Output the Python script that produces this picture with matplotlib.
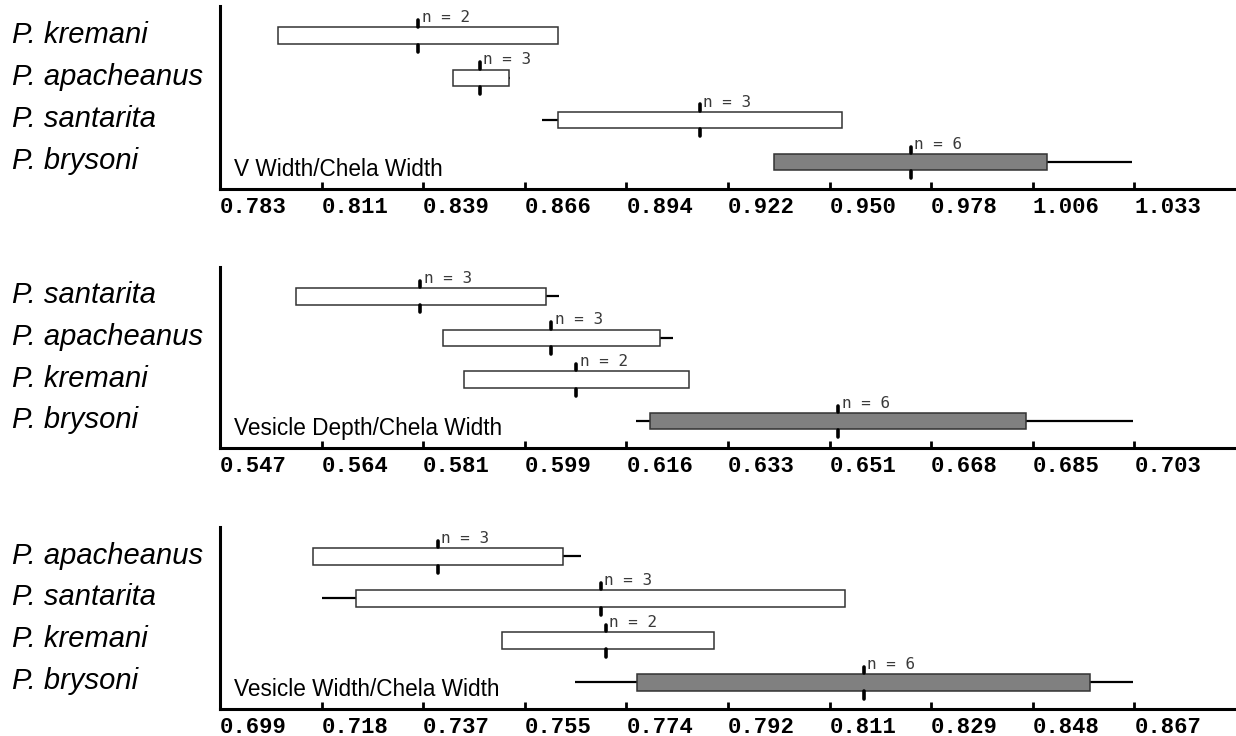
import numpy as np
import matplotlib
matplotlib.use("Agg")
import matplotlib.pyplot as plt
from matplotlib.transforms import blended_transform_factory

# ── Panel 1: V Width / Chela Width ───────────────────────────────────────────
V_SPECIES = ["P. kremani", "P. apacheanus", "P. santarita", "P. brysoni"]
V_BOX_LO = [0.7989, 0.8466, 0.8754, 0.9344]
V_BOX_HI = [0.8754, 0.8620, 0.9530, 1.0091]
V_WHISK_LO = [0.7989, 0.8466, 0.8709, 0.9344]
V_WHISK_HI = [0.8754, 0.8624, 0.9530, 1.0324]
V_MEAN = [0.8372, 0.8540, 0.9141, 0.9719]
V_N = [2, 3, 3, 6]
V_TICKS = ["0.783", "0.811", "0.839", "0.866", "0.894",
           "0.922", "0.950", "0.978", "1.006", "1.033"]

# ── Panel 2: Vesicle Depth / Chela Width ─────────────────────────────────────
D_SPECIES = ["P. santarita", "P. apacheanus", "P. kremani", "P. brysoni"]
D_BOX_LO = [0.5599, 0.5850, 0.5887, 0.6203]
D_BOX_HI = [0.6026, 0.6221, 0.6270, 0.6845]
D_WHISK_LO = [0.5599, 0.5850, 0.5887, 0.6179]
D_WHISK_HI = [0.6048, 0.6243, 0.6270, 0.7028]
D_MEAN = [0.5812, 0.6035, 0.6078, 0.6525]
D_N = [3, 3, 2, 6]
D_TICKS = ["0.547", "0.564", "0.581", "0.599", "0.616",
           "0.633", "0.651", "0.668", "0.685", "0.703"]

# ── Panel 3: Vesicle Width / Chela Width ─────────────────────────────────────
W_SPECIES = ["P. apacheanus", "P. santarita", "P. kremani", "P. brysoni"]
W_BOX_LO = [0.7160, 0.7240, 0.7509, 0.7756]
W_BOX_HI = [0.7620, 0.8138, 0.7897, 0.8588]
W_WHISK_LO = [0.7160, 0.7177, 0.7509, 0.7642]
W_WHISK_HI = [0.7653, 0.8138, 0.7897, 0.8668]
W_MEAN = [0.7390, 0.7690, 0.7699, 0.8173]
W_N = [3, 3, 2, 6]
W_TICKS = ["0.699", "0.718", "0.737", "0.755", "0.774",
           "0.792", "0.811", "0.829", "0.848", "0.867"]

BOX_H = 0.40
LABEL_FONT = "Liberation Sans"
TICK_FONT = "Liberation Mono"


def draw_panel(fig, ax, species, box_lo, box_hi, wh_lo, wh_hi, means, ns,
               tick_labels, title):
    rows = np.arange(len(species))
    t0, t1 = float(tick_labels[0]), float(tick_labels[-1])
    step = (t1 - t0) / (len(tick_labels) - 1)
    ticks = t0 + step * np.arange(len(tick_labels))

    # whiskers behind boxes
    ax.hlines(rows, wh_lo, wh_hi, color="black", lw=1.6, zorder=1)

    fills = ["#808080" if s == "P. brysoni" else "white" for s in species]
    ax.barh(rows, np.array(box_hi) - np.array(box_lo), left=box_lo,
            height=BOX_H, color=fills, edgecolor="#333333", lw=1.1, zorder=2)

    # mean markers above and below each box
    half = BOX_H / 2
    ax.vlines(means, rows - half - 0.17, rows - half - 0.02,
              color="black", lw=2.6, capstyle="round", zorder=3)
    ax.vlines(means, rows + half + 0.02, rows + half + 0.19,
              color="black", lw=2.6, capstyle="round", zorder=3)

    for r, m, n in zip(rows, means, ns):
        ax.annotate(f"n = {n}", (m, r - half), xytext=(2.5, 1.5),
                    textcoords="offset points", ha="left", va="bottom",
                    fontsize=11.5, family="DejaVu Sans Mono", color="#3a3a3a")

    # species names on the left margin
    trans = blended_transform_factory(fig.transFigure, ax.transData)
    for r, s in zip(rows, species):
        ax.text(12 / 1236, r + 0.17, s, transform=trans, ha="left",
                va="baseline", fontsize=21, style="italic",
                family=LABEL_FONT, color="black")

    ax.text(0.014, 3.34, title, transform=ax.get_yaxis_transform(),
            ha="left", va="baseline", fontsize=16.3, family=LABEL_FONT)

    ax.set_xlim(t0, t0 + step * len(tick_labels))
    ax.set_ylim(3.64, -0.71)
    ax.set_xticks(ticks)
    ax.set_xticklabels(tick_labels, family=TICK_FONT, fontsize=16,
                       fontweight="bold")
    for lab in ax.get_xticklabels():
        lab.set_ha("left")
    ax.set_yticks([])
    ax.tick_params(axis="x", direction="in", length=5, width=2, pad=6,
                   colors="black")
    for side in ["top", "right"]:
        ax.spines[side].set_visible(False)
    for side in ["left", "bottom"]:
        ax.spines[side].set_linewidth(2.2)
        ax.spines[side].set_color("black")


fig = plt.figure(figsize=(12.36, 7.36), dpi=100, facecolor="white")
ax1 = fig.add_axes([0.178, 0.7432, 0.822, 0.2486])
ax2 = fig.add_axes([0.178, 0.3917, 0.822, 0.2459])
ax3 = fig.add_axes([0.178, 0.0367, 0.822, 0.2477])

draw_panel(fig, ax1, V_SPECIES, V_BOX_LO, V_BOX_HI, V_WHISK_LO, V_WHISK_HI,
           V_MEAN, V_N, V_TICKS, "V Width/Chela Width")
draw_panel(fig, ax2, D_SPECIES, D_BOX_LO, D_BOX_HI, D_WHISK_LO, D_WHISK_HI,
           D_MEAN, D_N, D_TICKS, "Vesicle Depth/Chela Width")
draw_panel(fig, ax3, W_SPECIES, W_BOX_LO, W_BOX_HI, W_WHISK_LO, W_WHISK_HI,
           W_MEAN, W_N, W_TICKS, "Vesicle Width/Chela Width")

fig.savefig("out.png", dpi=100, facecolor="white")
